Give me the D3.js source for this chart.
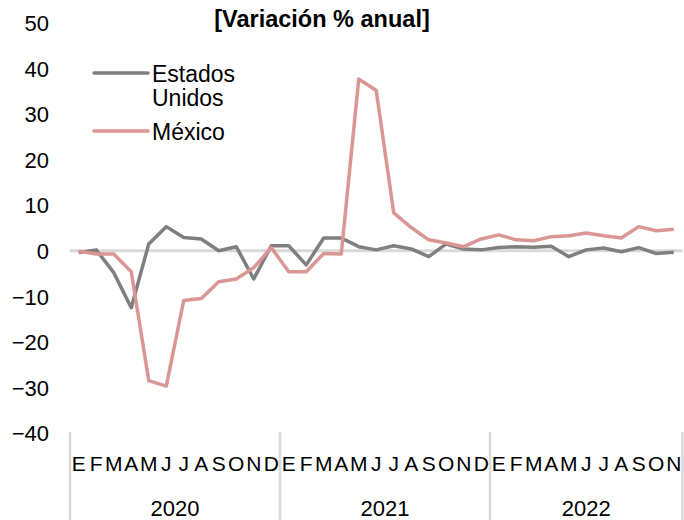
<!DOCTYPE html>
<html>
<head>
<meta charset="utf-8">
<script src="https://cdn.jsdelivr.net/npm/d3@7"></script>
<style>
  body { margin: 0; background: #fff; }
  svg text { font-family: "Liberation Sans", Arial, sans-serif; fill: #000; }
</style>
</head>
<body>
<div id="figure"><svg width="684" height="520"></svg></div>
<script>
var monthLabels = ["E","F","M","A","M","J","J","A","S","O","N","D",
                   "E","F","M","A","M","J","J","A","S","O","N","D",
                   "E","F","M","A","M","J","J","A","S","O","N"];
var years = [
  {label: "2020", count: 12},
  {label: "2021", count: 12},
  {label: "2022", count: 11}
];
var usValues = [-0.4, 0.2, -4.8, -12.5, 1.5, 5.3, 2.9, 2.6, 0.0, 0.9, -6.2, 1.1,
                1.1, -3.1, 2.8, 2.8, 0.9, 0.2, 1.1, 0.4, -1.3, 1.5, 0.4, 0.2,
                0.7, 0.9, 0.8, 1.0, -1.3, 0.2, 0.6, -0.2, 0.7, -0.6, -0.3];
var mxValues = [-0.1, -0.7, -0.7, -4.6, -28.5, -29.7, -10.9, -10.5, -6.8, -6.2, -3.7, 0.7,
                -4.6, -4.6, -0.6, -0.7, 37.7, 35.2, 8.3, 5.1, 2.4, 1.7, 0.9, 2.6,
                3.5, 2.4, 2.2, 3.1, 3.3, 3.9, 3.3, 2.8, 5.3, 4.4, 4.7];
var yTicks = [50, 40, 30, 20, 10, 0, -10, -20, -30, -40];
var series = [
  {name: ["Estados", "Unidos"], values: usValues, color: "#7f7f7f"},
  {name: ["México"], values: mxValues, color: "#da9694"}
];

var figure = d3.select("div#figure svg");
var idx = d3.range(monthLabels.length);

var x = d3.scaleBand().domain(idx).range([70, 682.5]).padding(0);
var y = d3.scaleLinear().domain([-40, 50]).range([433, 23]);
var cx = function(i) { return x(i) + x.bandwidth() / 2; };

// y axis labels (no axis line)
var yAxis = d3.axisLeft(y).tickValues(yTicks).tickSize(0).tickPadding(0);
var gy = figure.append("g").attr("transform", "translate(49,0)").call(yAxis);
gy.select(".domain").remove();
gy.selectAll("text")
  .attr("font-family", "'Liberation Sans', Arial, sans-serif")
  .attr("font-size", 22)
  .attr("dy", "0.35em")
  .attr("fill", "#000");

// zero line
figure.append("line")
  .attr("x1", 70).attr("x2", 682.5)
  .attr("y1", y(0)).attr("y2", y(0))
  .style("stroke", "#d9d9d9")
  .style("stroke-width", 3);

// category separators
var bounds = [0];
years.forEach(function(d) { bounds.push(bounds[bounds.length - 1] + d.count); });
figure.selectAll("line.sep").data(bounds).enter().append("line")
  .attr("class", "sep")
  .attr("x1", function(d) { return d < idx.length ? x(d) : x(idx.length - 1) + x.bandwidth(); })
  .attr("x2", function(d) { return d < idx.length ? x(d) : x(idx.length - 1) + x.bandwidth(); })
  .attr("y1", 432).attr("y2", 520)
  .style("stroke", "#d9d9d9")
  .style("stroke-width", 2.5);

// month labels
figure.selectAll("text.month").data(idx).enter().append("text")
  .attr("class", "month")
  .attr("x", cx)
  .attr("y", 471)
  .attr("text-anchor", "middle")
  .attr("font-size", 21)
  .text(function(i) { return monthLabels[i]; });

// year labels
figure.selectAll("text.year").data(years).enter().append("text")
  .attr("class", "year")
  .attr("x", function(d, i) {
    var a = x(bounds[i]);
    var b = x(bounds[i + 1] - 1) + x.bandwidth();
    return (a + b) / 2;
  })
  .attr("y", 516)
  .attr("text-anchor", "middle")
  .attr("font-size", 22)
  .text(function(d) { return d.label; });

// lines
var line = d3.line()
  .x(function(d, i) { return cx(i); })
  .y(function(d) { return y(d); });

figure.selectAll("path.series").data(series).enter().append("path")
  .attr("class", "series")
  .attr("d", function(d) { return line(d.values); })
  .style("fill", "none")
  .style("stroke", function(d) { return d.color; })
  .style("stroke-width", 3.5)
  .style("stroke-linejoin", "round");

// legend
var legendY = [73, 131];
var legend = figure.selectAll("g.legend").data(series).enter().append("g")
  .attr("class", "legend")
  .attr("transform", function(d, i) { return "translate(0," + legendY[i] + ")"; });
legend.append("line")
  .attr("x1", 94).attr("x2", 148)
  .attr("y1", 0).attr("y2", 0)
  .style("stroke", function(d) { return d.color; })
  .style("stroke-width", 3.5)
  .style("stroke-linecap", "round");
legend.each(function(d) {
  var g = d3.select(this);
  d.name.forEach(function(t, j) {
    g.append("text")
      .attr("x", 152)
      .attr("y", 9 + j * 24)
      .attr("font-size", 23)
      .text(t);
  });
});

// title
figure.append("text")
  .attr("x", 322)
  .attr("y", 27)
  .attr("text-anchor", "middle")
  .attr("font-size", 23.5)
  .attr("font-weight", "bold")
  .text("[Variación % anual]");
</script>
</body>
</html>
